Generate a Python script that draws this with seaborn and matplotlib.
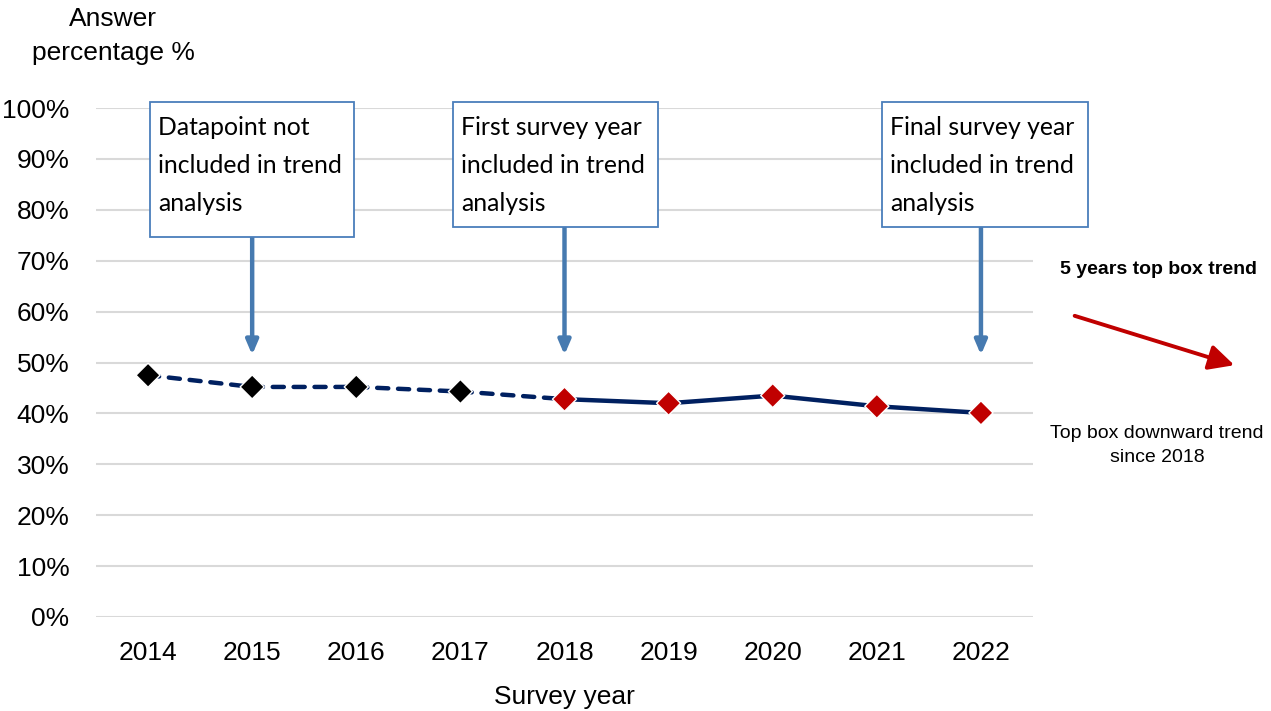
import matplotlib
matplotlib.use("Agg")
import matplotlib.pyplot as plt
import seaborn as sns
import pandas as pd
from matplotlib.patches import Rectangle, FancyArrowPatch

# Survey results
years = ["2014", "2015", "2016", "2017", "2018", "2019", "2020", "2021", "2022"]
answer_pct = [47.5, 45.2, 45.2, 44.3, 42.8, 42.0, 43.5, 41.4, 40.1]
in_trend = [False, False, False, False, True, True, True, True, True]
y_ticks = [0, 10, 20, 30, 40, 50, 60, 70, 80, 90, 100]

callouts = [
    ("2015", "Datapoint not\nincluded in trend\nanalysis"),
    ("2018", "First survey year\nincluded in trend\nanalysis"),
    ("2022", "Final survey year\nincluded in trend\nanalysis"),
]

sns.set_theme(style="white")
plt.rcParams["font.family"] = ["Liberation Sans", "DejaVu Sans"]

W, H = 1271, 711
fig = plt.figure(figsize=(W / 100, H / 100), dpi=100)


def fx(px):
    return px / W


def fy(py):
    return 1 - py / H


ax = fig.add_axes([fx(96), fy(617), fx(1033) - fx(96), fy(108) - fy(617)])

df = pd.DataFrame({"year": years, "pct": [v / 100 for v in answer_pct], "trend": in_trend})
df["pos"] = range(len(df))

navy = "#002060"
first_trend = df.index[df["trend"]][0]
pre = df.loc[:first_trend]
post = df.loc[first_trend:]

sns.lineplot(data=pre, x="pos", y="pct", ax=ax, color=navy, lw=3.2,
             linestyle=(0, (2.5, 2.2)), dash_capstyle="round", zorder=2)
sns.lineplot(data=post, x="pos", y="pct", ax=ax, color=navy, lw=3.2,
             solid_capstyle="round", zorder=2)
sns.scatterplot(data=df, x="pos", y="pct", hue="trend",
                palette={False: "black", True: "#C00000"},
                marker="D", s=150, edgecolor="white", linewidth=1.0,
                legend=False, ax=ax, zorder=3)

ax.set_xlim(-0.5, len(years) - 0.5)
ax.set_ylim(0, 1)
ax.set_xticks(range(len(years)))
ax.set_xticklabels(years)
ax.set_yticks([t / 100 for t in y_ticks])
ax.set_yticklabels([f"{t}%" for t in y_ticks])
ax.tick_params(axis="both", length=0, labelsize=19, colors="black")
ax.tick_params(axis="y", pad=19)
ax.tick_params(axis="x", pad=17.5)
ax.grid(axis="y", color="#D9D9D9", lw=1.5)
ax.grid(axis="x", visible=False)
for s in ax.spines.values():
    s.set_visible(False)
ax.set_xlabel("Survey year", fontsize=19, color="black", labelpad=14.5)
ax.set_ylabel("")

fig.text(fx(113), fy(36), "Answer\npercentage %", ha="center", va="center",
         fontsize=19, linespacing=1.55, color="black")

# Callout boxes with arrows down to the line
box_blue = "#4A7EBB"
arrow_blue = "#467AB0"
box_px = [(150, 102, 354, 237), (453, 102, 658, 227), (882, 102, 1088, 227)]
for (yr, label), (x0, y0, x1, y1) in zip(callouts, box_px):
    fig.add_artist(Rectangle((fx(x0), fy(y1)), fx(x1) - fx(x0), fy(y0) - fy(y1),
                             transform=fig.transFigure, facecolor="white",
                             edgecolor=box_blue, lw=1.3, zorder=5))
    fig.text(fx(x0 + 8), fy(y0 + 14), label, ha="left", va="top",
             fontsize=17.8, family=["Lato", "DejaVu Sans"], linespacing=1.8,
             color="black", zorder=6)
    xi = years.index(yr)
    ax.annotate("", xy=(xi, 0.515), xycoords="data",
                xytext=(xi, fy(y1)), textcoords=("data", "figure fraction"),
                arrowprops=dict(arrowstyle="-|>,head_length=0.7,head_width=0.3",
                                color=arrow_blue, lw=3.2, shrinkA=0, shrinkB=0),
                zorder=4)

# Trend summary on the right
narrow = ["Liberation Sans Narrow", "Liberation Sans", "DejaVu Sans"]
fig.text(fx(1158), fy(270), "5 years top box trend", ha="center", va="center",
         fontsize=14, fontweight="bold", family=narrow, color="black")
fig.add_artist(FancyArrowPatch((fx(1072), fy(315)), (fx(1237), fy(366)),
                               transform=fig.transFigure,
                               arrowstyle="-|>,head_length=0.9,head_width=0.45",
                               mutation_scale=17, color="#C00000", lw=2.8))
fig.text(fx(1157), fy(445.5), "Top box downward trend\nsince 2018", ha="center",
         va="center", fontsize=14, family=narrow, color="black", linespacing=1.55)

fig.savefig("out.png", dpi=100)
